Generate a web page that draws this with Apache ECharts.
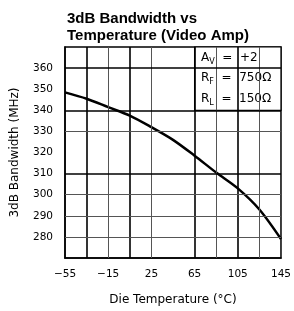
<!DOCTYPE html>
<html>
<head>
<meta charset="utf-8">
<script src="https://cdn.jsdelivr.net/npm/echarts@6/dist/echarts.min.js"></script>
<style>
  html, body { margin: 0; padding: 0; background: #fff; }
  #main { width: 294px; height: 311px; }
</style>
</head>
<body>
<div id="main"></div>
<script>
// data
var temps = [-55, -35, -15, 5, 25, 45, 65, 85, 105, 125, 145];
var bandwidth = [348.5, 345.5, 341.5, 337.5, 332, 326, 318.5, 310.5, 303, 293, 279];

// grid lines as drawn on the sheet (some heavy, some light, some missing)
var vHeavy = [-35, 5, 65, 105];
var vLight = [-15, 25, 85, 125];
var hHeavy = [360, 340, 310];
var hLight = [330, 300, 290, 280];

var myChart = echarts.init(document.getElementById('main'));

function gridLines() {
    var out = [];
    vHeavy.forEach(function (v) { out.push({ xAxis: v, lineStyle: { type: 'solid', width: 1.6, color: '#000' } }); });
    vLight.forEach(function (v) { out.push({ xAxis: v, lineStyle: { type: 'solid', width: 1, color: '#555' } }); });
    hHeavy.forEach(function (v) { out.push({ yAxis: v, lineStyle: { type: 'solid', width: 1.6, color: '#000' } }); });
    hLight.forEach(function (v) { out.push({ yAxis: v, lineStyle: { type: 'solid', width: 1, color: '#555' } }); });
    return out;
}

var font = 'DejaVu Sans';

var option = {
    animation: false,
    title: {
        text: '3dB Bandwidth vs\nTemperature (Video Amp)',
        left: 62,
        top: 5,
        textStyle: {
            fontFamily: 'Liberation Sans',
            fontSize: 15,
            fontWeight: 'bold',
            lineHeight: 17,
            color: '#000'
        }
    },
    grid: {
        left: 65,
        right: 12,
        top: 47,
        bottom: 49,
        show: true,
        borderColor: '#000',
        borderWidth: 1.5
    },
    xAxis: {
        type: 'value',
        min: -55,
        max: 145,
        interval: 40,
        name: 'Die Temperature (°C)',
        nameLocation: 'middle',
        nameGap: 36,
        nameTextStyle: { fontFamily: font, fontSize: 12, color: '#000' },
        axisLine: { show: true, onZero: false, lineStyle: { color: '#000', width: 1.5 } },
        axisTick: { show: false },
        splitLine: { show: false },
        axisLabel: {
            margin: 11,
            fontFamily: font,
            fontSize: 10.5,
            color: '#000',
            formatter: function (v) { return String(v).replace('-', '\u2212'); }
        }
    },
    yAxis: {
        type: 'value',
        min: 270,
        max: 370,
        interval: 10,
        name: '3dB Bandwidth (MHz)',
        nameLocation: 'middle',
        nameRotate: 90,
        nameGap: 44,
        nameTextStyle: { fontFamily: font, fontSize: 12, color: '#000' },
        axisLine: { show: true, onZero: false, lineStyle: { color: '#000', width: 1.5 } },
        axisTick: { show: false },
        splitLine: { show: false },
        axisLabel: {
            margin: 12,
            fontFamily: font,
            fontSize: 10.5,
            color: '#000',
            formatter: function (v) { return (v < 280 || v > 360) ? '' : v; }
        }
    },
    series: [
        {
            type: 'line',
            data: [],
            z: 1,
            markLine: {
                silent: true,
                symbol: 'none',
                label: { show: false },
                data: gridLines()
            }
        },
        {
            type: 'line',
            data: [],
            z: 2,
            markArea: {
                silent: true,
                itemStyle: { color: '#fff', borderColor: '#000', borderWidth: 1.2 },
                label: {
                    show: true,
                    position: 'insideTopLeft',
                    distance: 0,
                    padding: [1, 0, 0, 7],
                    formatter: '{n|A}{s|V}{n|  =  +2}\n{n|R}{s|F}{n|  =  750Ω}\n{n|R}{s|L}{n|  =  150Ω}',
                    rich: {
                        n: { fontFamily: font, fontSize: 12, color: '#000', lineHeight: 20.5, verticalAlign: 'middle' },
                        s: { fontFamily: font, fontSize: 8, color: '#000', lineHeight: 20.5, verticalAlign: 'bottom', padding: [0, 0, 2, 0] }
                    }
                },
                data: [[{ xAxis: 65, yAxis: 370 }, { xAxis: 145, yAxis: 340 }]]
            }
        },
        {
            name: '3dB Bandwidth',
            type: 'line',
            data: temps.map(function (t, i) { return [t, bandwidth[i]]; }),
            smooth: 0.3,
            showSymbol: false,
            z: 3,
            lineStyle: { color: '#000', width: 2.5 }
        }
    ]
};

myChart.setOption(option);
</script>
</body>
</html>
